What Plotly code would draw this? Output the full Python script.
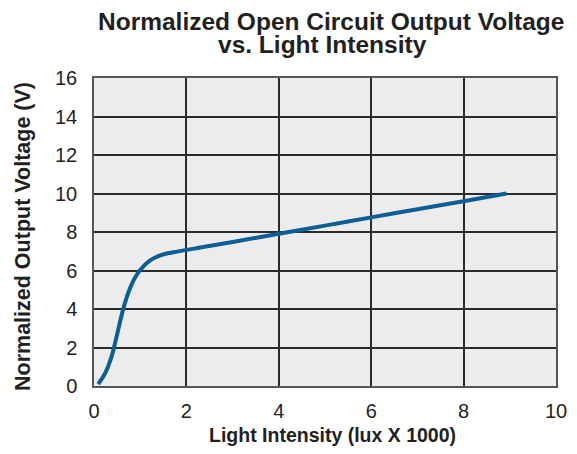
import plotly.graph_objects as go

x_vals = [0.09, 0.24, 0.38, 0.49, 0.57, 0.65, 0.75, 0.87, 0.99, 1.20, 1.45, 1.80, 2.30, 3.0, 4.0, 5.0, 6.0, 7.0, 8.0, 8.93]
y_vals = [0.10, 0.66, 1.53, 2.57, 3.40, 4.15, 4.90, 5.55, 6.00, 6.50, 6.80, 6.98, 7.19, 7.48, 7.91, 8.33, 8.76, 9.18, 9.60, 10.0]

x_ticks = [0, 2, 4, 6, 8, 10]
y_ticks = [0, 2, 4, 6, 8, 10, 12, 14, 16]

title_lines = ["Normalized Open Circuit Output Voltage", "vs. Light Intensity"]
x_title = "Light Intensity (lux X 1000)"
y_title = "Normalized Output Voltage (V)"

# page body has an 8px margin; figure is sized to fit the window
W, H = 561, 438
L, R, T, B = 86, 13, 70, 60
PW, PH = W - L - R, H - T - B

def px(xp):
    return (xp - L) / PW

def py(yp):
    return (H - B - yp) / PH

fig = go.Figure()
fig.add_trace(go.Scatter(
    x=x_vals, y=y_vals, mode="lines",
    line=dict(color="#0b5e96", width=4, shape="spline", smoothing=0.8),
    hoverinfo="skip",
))

font_family = "Liberation Sans, Arial, sans-serif"
txt_color = "#231f20"
fig.update_layout(
    width=W, height=H,
    margin=dict(l=L, r=R, t=T, b=B, autoexpand=False),
    paper_bgcolor="white",
    plot_bgcolor="#ececec",
    showlegend=False,
    font=dict(family=font_family, color=txt_color),
)
fig.update_xaxes(
    range=[0, 10], tickvals=x_ticks, ticktext=[str(v) for v in x_ticks],
    showgrid=True, gridcolor="#2b2b2b", gridwidth=1.5,
    showline=True, linecolor="#555555", linewidth=1.5, mirror=True,
    zeroline=False, ticks="", tickfont=dict(size=20), automargin=False,
    ticklabelstandoff=6,
)
fig.update_yaxes(
    range=[0, 16], tickvals=y_ticks, ticktext=[str(v) for v in y_ticks],
    showgrid=True, gridcolor="#2b2b2b", gridwidth=1.5,
    showline=True, linecolor="#555555", linewidth=1.5, mirror=True,
    zeroline=False, ticks="", tickfont=dict(size=20), automargin=False,
    ticklabelstandoff=11,
)

annots = [
    dict(text="<b>%s</b>" % title_lines[0], x=px(323), y=py(14), size=24.5, angle=0),
    dict(text="<b>%s</b>" % title_lines[1], x=px(314.5), y=py(37), size=24.5, angle=0),
    dict(text="<b>%s</b>" % x_title, x=px(324.5), y=py(427), size=19.5, angle=0),
    dict(text="<b>%s</b>" % y_title, x=px(15), y=py(229), size=21.5, angle=-90),
]
for a in annots:
    fig.add_annotation(
        text=a["text"], x=a["x"], y=a["y"], xref="paper", yref="paper",
        xanchor="center", yanchor="middle", showarrow=False, textangle=a["angle"],
        font=dict(family=font_family, size=a["size"], color=txt_color),
    )

fig.write_html("out.html")
